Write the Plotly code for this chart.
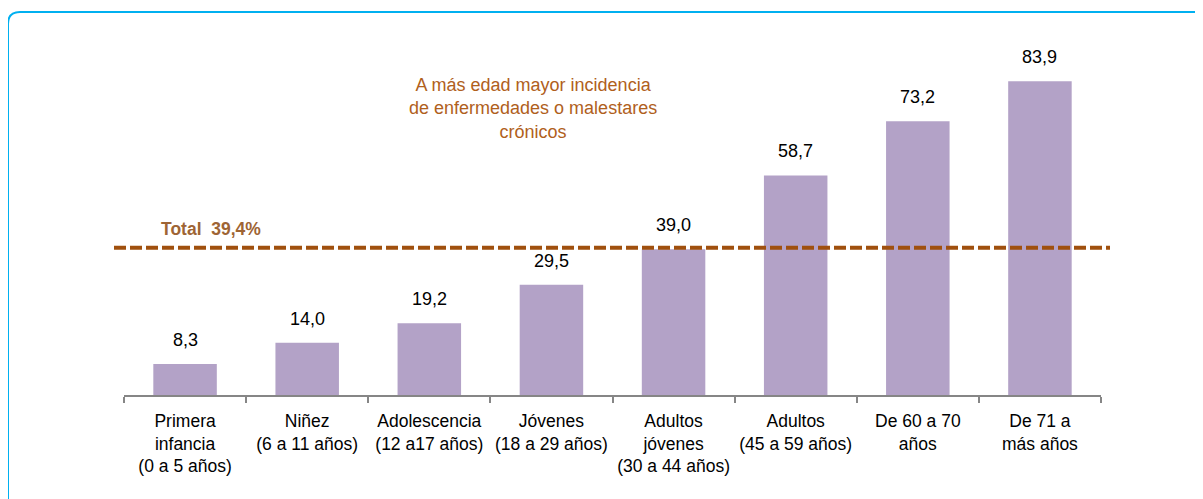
import plotly.graph_objects as go

categories = [
    "Primera<br>infancia<br>(0 a 5 años)",
    "Niñez<br>(6 a 11 años)",
    "Adolescencia<br>(12 a17 años)",
    "Jóvenes<br>(18 a 29 años)",
    "Adultos<br>jóvenes<br>(30 a 44 años)",
    "Adultos<br>(45 a 59 años)",
    "De 60 a 70<br>años",
    "De 71 a<br>más años",
]
values = [8.3, 14.0, 19.2, 29.5, 39.0, 58.7, 73.2, 83.9]
total = 39.4
total_label = "Total  39,4%"
note = "A más edad mayor incidencia<br>de enfermedades o malestares<br>crónicos"

FONT = "Liberation Sans, Arial, sans-serif"
OFF = 8  # page body margin
W, H = 1203 - OFF, 499 - OFF
L, T = 124 - OFF, 21 - OFF
PW, PH = 977, 374
R, B = W - L - PW, H - T - PH


def px(x):
    return (x - OFF - L) / PW


def py(y):
    return (T + PH - (y - OFF)) / PH


fig = go.Figure()
fig.add_trace(go.Bar(
    x=categories, y=values,
    marker=dict(color="#B3A2C7", line=dict(width=0)),
    width=0.52,
    hoverinfo="skip",
))

for c, v in zip(categories, values):
    fig.add_annotation(
        x=c, y=v, xref="x", yref="y",
        text=f"{v:.1f}".replace(".", ","),
        showarrow=False, yanchor="bottom", yshift=12,
        font=dict(family=FONT, size=18, color="#000000"),
    )

# total dashed line
fig.add_shape(
    type="line", xref="paper", yref="y",
    x0=px(114), x1=px(1110), y0=total, y1=total,
    line=dict(color="#A0500E", width=4, dash="12px,4px"),
)
fig.add_annotation(
    x=px(159), y=total, xref="paper", yref="y",
    text=f"<b>{total_label}</b>", showarrow=False,
    xanchor="left", yanchor="bottom", yshift=7,
    font=dict(family=FONT, size=17.5, color="#9E6434"),
)
fig.add_annotation(
    x=px(533), y=py(108), xref="paper", yref="paper",
    text=note, showarrow=False, xanchor="center", yanchor="middle",
    align="center",
    font=dict(family=FONT, size=18, color="#B0601C"),
)

# rounded border
r = 12
x0, y0, x1, y1 = 8, 12, 1230, 530
path = (
    f"M {px(x0)} {py(y1)} L {px(x0)} {py(y0 + r)} "
    f"Q {px(x0)} {py(y0)} {px(x0 + r)} {py(y0)} L {px(x1)} {py(y0)}"
)
fig.add_shape(type="path", xref="paper", yref="paper", path=path,
              line=dict(color="#00B0F0", width=2))

fig.update_layout(
    width=W, height=H,
    margin=dict(l=L, r=R, t=T, b=B, autoexpand=False),
    paper_bgcolor="white", plot_bgcolor="white",
    showlegend=False,
    bargap=0.48,
    font=dict(family=FONT, size=18, color="#000000"),
    xaxis=dict(
        type="category", showline=True, linecolor="#868686", linewidth=1.5,
        ticks="outside", tickson="boundaries", ticklen=6, tickcolor="#868686",
        tickwidth=1.5, ticklabelstandoff=9, tickangle=0, automargin=False,
        tickfont=dict(family=FONT, size=17.5, color="#000000"),
        showgrid=False, zeroline=False,
    ),
    yaxis=dict(range=[0, 100], visible=False, showgrid=False, zeroline=False),
)

fig.write_html("out.html")
